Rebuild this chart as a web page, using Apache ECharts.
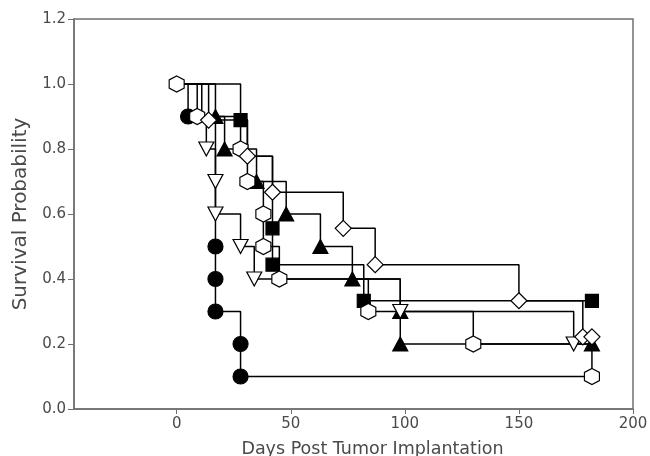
<!DOCTYPE html>
<html>
<head>
<meta charset="utf-8">
<script src="https://cdn.jsdelivr.net/npm/echarts@6/dist/echarts.min.js"></script>
<style>
  html, body { margin: 0; padding: 0; background: #fff; }
  #chart { width: 650px; height: 456px; }
</style>
</head>
<body>
<div id="chart"></div>
<script>
// survival steps per group: day of event, survival after it, whether a symbol is drawn
const xTicks = [0, 50, 100, 150, 200]

const circleDays = [0, 5, 17, 17, 17, 17, 17, 17, 28, 28, 182]
const circleSurv = [1, 0.9, 0.8, 0.7, 0.6, 0.5, 0.4, 0.3, 0.2, 0.1, 0.1]
const circleMarks = [0, 1, 0, 0, 0, 1, 1, 1, 1, 1, 0]

const squareDays = [0, 28, 31, 42, 42, 42, 82, 182]
const squareSurv = [1, 0.889, 0.778, 0.667, 0.556, 0.444, 0.333, 0.333]
const squareMarks = [0, 1, 0, 0, 1, 1, 1, 1]

const triDays = [0, 17, 21, 35, 48, 63, 77, 98, 98, 182]
const triSurv = [1, 0.9, 0.8, 0.7, 0.6, 0.5, 0.4, 0.3, 0.2, 0.2]
const triMarks = [0, 1, 1, 1, 1, 1, 1, 1, 1, 1]

const invDays = [0, 11, 13, 17, 17, 28, 34, 98, 174]
const invSurv = [1, 0.9, 0.8, 0.7, 0.6, 0.5, 0.4, 0.3, 0.2]
const invMarks = [0, 0, 1, 1, 1, 1, 1, 1, 1]

const hexDays = [0, 9, 28, 31, 38, 38, 45, 84, 130, 182]
const hexSurv = [1, 0.9, 0.8, 0.7, 0.6, 0.5, 0.4, 0.3, 0.2, 0.1]
const hexMarks = [1, 1, 1, 1, 1, 1, 1, 1, 1, 1]

const diaDays = [0, 14, 31, 42, 73, 87, 150, 178, 182]
const diaSurv = [1, 0.889, 0.778, 0.667, 0.556, 0.444, 0.333, 0.222, 0.222]
const diaMarks = [0, 1, 1, 1, 1, 1, 1, 1, 1]

const HEX = 'path://M50,0 L93,25 L93,75 L50,100 L7,75 L7,25 Z'
const FONT = 'DejaVu Sans'
const TXT = '#4a4a4a'

function km (days, surv, marks, sym, size, fill, rotate) {
  let data = days.map(function (d, i) {
    let item = { value: [d, surv[i]] }
    if (!marks[i]) item.symbol = 'none'
    return item
  })
  return {
    type: 'line',
    step: 'end',
    data: data,
    symbol: sym,
    symbolSize: size,
    symbolRotate: rotate || 0,
    showAllSymbol: true,
    lineStyle: { color: '#000', width: 1.5 },
    itemStyle: { color: fill, borderColor: '#000', borderWidth: 1.2, opacity: 1 },
    emphasis: { disabled: true },
    animation: false
  }
}

let chart = echarts.init(document.getElementById('chart'))
chart.setOption({
  backgroundColor: '#fff',
  grid: {
    left: 74, right: 17, top: 19, bottom: 47,
    outerBoundsMode: 'none',
    show: true, borderColor: '#707070', borderWidth: 1.5
  },
  xAxis: {
    type: 'value',
    min: -45,
    max: 200,
    name: 'Days Post Tumor Implantation',
    nameLocation: 'middle',
    nameGap: 31,
    nameTextStyle: { fontFamily: FONT, fontSize: 17.5, color: TXT, padding: [0, 0, 0, 38] },
    splitLine: { show: false },
    axisLine: { onZero: false, lineStyle: { color: '#707070', width: 1.5 } },
    axisTick: { customValues: xTicks, length: 5, lineStyle: { color: '#707070' } },
    axisLabel: { customValues: xTicks, fontFamily: FONT, fontSize: 15, color: TXT, margin: 8 }
  },
  yAxis: {
    type: 'value',
    min: 0,
    max: 1.2,
    interval: 0.2,
    name: 'Survival Probability',
    nameLocation: 'middle',
    nameGap: 43,
    nameTextStyle: { fontFamily: FONT, fontSize: 20, color: TXT },
    splitLine: { show: false },
    axisLine: { show: true, onZero: false, lineStyle: { color: '#707070', width: 1.5 } },
    axisTick: { show: true, length: 6, lineStyle: { color: '#707070' } },
    axisLabel: { fontFamily: FONT, fontSize: 15, color: TXT, margin: 8, formatter: function (v) { return v.toFixed(1) } }
  },
  series: [
    km(circleDays, circleSurv, circleMarks, 'circle', 15, '#000'),
    km(squareDays, squareSurv, squareMarks, 'rect', 13, '#000'),
    km(triDays, triSurv, triMarks, 'triangle', [15, 14], '#000'),
    km(invDays, invSurv, invMarks, 'triangle', [15, 14], '#fff', 180),
    km(hexDays, hexSurv, hexMarks, HEX, [15, 16], '#fff'),
    km(diaDays, diaSurv, diaMarks, 'diamond', 16, '#fff')
  ]
})
</script>
</body>
</html>
